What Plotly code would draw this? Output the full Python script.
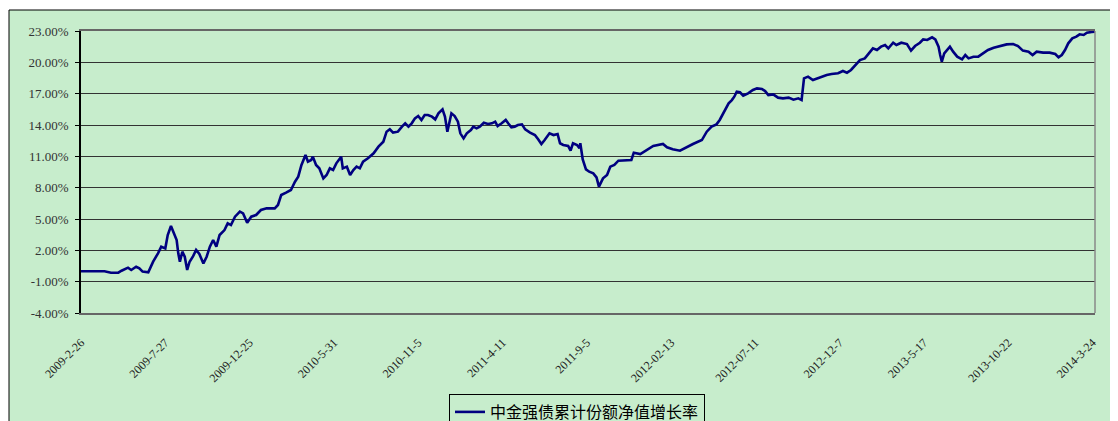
import plotly.graph_objects as go

# trading-day index (0 = 2009-2-26) and cumulative NAV growth (%)
day_index = [0, 29, 37, 46, 50, 58, 62, 68, 72, 76, 83, 85, 89, 95, 99, 104, 107, 111, 116, 118,
             120, 122, 125, 128, 131, 134, 138, 142, 146, 151, 155, 159, 163, 167, 171, 177, 181, 185, 190, 196,
             200, 205, 210, 216, 222, 229, 235, 239, 243, 247, 253, 259, 264, 268, 272, 277, 280, 284, 286, 290,
             294, 299, 303, 307, 311, 315, 321, 323, 328, 332, 336, 340, 344, 348, 354, 361, 367, 373, 377, 381,
             385, 391, 396, 400, 404, 408, 412, 416, 420, 424, 428, 433, 437, 441, 446, 449, 452, 454, 457, 461,
             465, 468, 472, 476, 481, 484, 488, 492, 497, 502, 507, 511, 514, 519, 524, 527, 531, 535, 539, 544,
             548, 554, 560, 564, 568, 572, 578, 583, 588, 591, 595, 601, 604, 607, 612, 615, 616, 619, 623, 627,
             632, 636, 639, 644, 649, 653, 658, 663, 669, 675, 679, 682, 688, 690, 706, 718, 723, 730, 739, 748,
             755, 766, 772, 778, 784, 788, 793, 799, 803, 806, 809, 813, 817, 823, 829, 834, 840, 844, 848, 854,
             860, 866, 873, 879, 885, 889, 892, 897, 903, 908, 914, 920, 926, 934, 940, 945, 950, 955, 961, 967,
             971, 977, 982, 987, 992, 996, 1002, 1006, 1012, 1019, 1024, 1029, 1035, 1039, 1044, 1050, 1054, 1058, 1060, 1062,
             1065, 1068, 1072, 1076, 1081, 1087, 1091, 1095, 1101, 1107, 1113, 1119, 1126, 1134, 1142, 1150, 1156, 1162, 1169, 1174,
             1179, 1187, 1195, 1202, 1206, 1210, 1214, 1218, 1223, 1228, 1232, 1237, 1241, 1247, 1251]
growth_pct = [0.0, 0.0, -0.14, -0.14, 0.05, 0.34, 0.12, 0.43, 0.27, -0.04, -0.11, 0.27, 0.91, 1.71, 2.35, 2.19, 3.47, 4.33, 3.47, 2.99,
              1.71, 0.91, 1.87, 1.39, 0.12, 0.91, 1.39, 2.03, 1.65, 0.75, 1.39, 2.35, 2.99, 2.35, 3.47, 3.94, 4.58, 4.42, 5.22, 5.70,
              5.54, 4.65, 5.22, 5.38, 5.86, 6.02, 6.02, 6.02, 6.34, 7.30, 7.52, 7.78, 8.57, 9.05, 10.17, 11.13, 10.49, 10.65, 10.97, 10.17,
              9.85, 8.89, 9.21, 9.85, 9.69, 10.33, 10.97, 9.85, 10.01, 9.21, 9.69, 10.01, 9.85, 10.49, 10.81, 11.29, 11.93, 12.40, 13.36, 13.59,
              13.27, 13.36, 13.84, 14.16, 13.84, 14.16, 14.64, 14.86, 14.48, 14.96, 14.96, 14.80, 14.54, 15.12, 15.50, 14.80, 13.36, 14.16, 15.12, 14.86,
              14.32, 13.20, 12.72, 13.20, 13.52, 13.84, 13.68, 13.84, 14.22, 14.10, 14.16, 14.32, 13.90, 14.16, 14.48, 14.16, 13.78, 13.84, 14.00, 14.06,
              13.58, 13.27, 13.04, 12.63, 12.18, 12.56, 13.20, 13.04, 13.14, 12.25, 12.09, 11.99, 11.54, 12.25, 12.09, 11.77, 12.25, 10.71, 9.75, 9.53,
              9.37, 8.99, 8.10, 8.89, 9.21, 10.01, 10.17, 10.58, 10.58, 10.58, 10.65, 11.35, 11.29, 11.22, 11.99, 12.18, 11.87, 11.67, 11.54, 11.93,
              12.18, 12.56, 13.36, 13.84, 14.06, 14.48, 15.27, 16.07, 16.39, 16.71, 17.19, 17.13, 16.81, 17.03, 17.35, 17.51, 17.45, 17.25, 16.87, 16.93,
              16.62, 16.55, 16.62, 16.42, 16.55, 16.39, 18.47, 18.63, 18.31, 18.47, 18.63, 18.79, 18.88, 18.95, 19.17, 19.01, 19.27, 19.68, 20.22, 20.38,
              20.77, 21.34, 21.18, 21.50, 21.66, 21.34, 21.88, 21.66, 21.88, 21.75, 21.12, 21.56, 21.88, 22.20, 22.14, 22.39, 22.20, 21.50, 20.70, 20.06,
              20.86, 21.18, 21.50, 21.02, 20.54, 20.29, 20.70, 20.38, 20.54, 20.54, 20.86, 21.18, 21.40, 21.56, 21.72, 21.75, 21.56, 21.12, 21.02, 20.70,
              21.02, 20.93, 20.93, 20.80, 20.48, 20.70, 21.18, 21.82, 22.30, 22.46, 22.68, 22.62, 22.84, 22.90, 22.94]

label_index = [0, 104, 208, 312, 416, 520, 624, 728, 832, 936, 1040, 1144, 1248]
label_text = ["2009-2-26", "2009-7-27", "2009-12-25", "2010-5-31", "2010-11-5", "2011-4-11", "2011-9-5",
              "2012-02-13", "2012-07-11", "2012-12-7", "2013-5-17", "2013-10-22", "2014-3-24"]
tick_index = [0, 71, 142, 213, 284, 355, 426, 497, 568, 639, 710, 781, 852, 923, 994, 1065, 1136, 1207]
y_ticks = [-4, -1, 2, 5, 8, 11, 14, 17, 20, 23]
series_name = "中金强债累计份额净值增长率"

GREEN = "#C7EDCC"
OFF = 8  # page body margin offset
W, H = 1118, 421
L, T = 81 - OFF, 31 - OFF
pw, ph = 1014, 282
R, B = W - L - pw, H - T - ph

def px_x(p):  # page pixel -> paper x
    return (p - OFF - L) / pw

def px_y(p):  # page pixel -> paper y
    return (T + ph - (p - OFF)) / ph

fig = go.Figure()
fig.add_trace(go.Scatter(x=day_index, y=growth_pct, mode="lines", name=series_name,
                         line=dict(color="#000080", width=2.6)))

xr = [0, day_index[-1]]
fig.update_layout(
    width=W, height=H,
    margin=dict(l=L, r=R, t=T, b=B, autoexpand=False),
    paper_bgcolor="white", plot_bgcolor=GREEN,
    showlegend=True,
    legend=dict(orientation="h", x=px_x(449), xanchor="left", y=px_y(394), yanchor="top",
                bgcolor=GREEN, bordercolor="#000", borderwidth=1,
                font=dict(family="Noto Sans CJK SC", size=16, color="#000"),
                itemwidth=30, tracegroupgap=0),
    xaxis=dict(range=xr, tickmode="array", tickvals=label_index, ticktext=label_text,
               tickangle=-45, ticks="", showgrid=False, zeroline=False,
               ticklabelstandoff=16,
               showline=True, linecolor="#666", linewidth=1.5, mirror=True,
               tickfont=dict(family="Liberation Serif", size=12, color="#222")),
    xaxis2=dict(overlaying="x", anchor="free", position=4 / 27, range=xr,
                tickmode="array", tickvals=tick_index, ticks="inside", ticklen=5,
                tickcolor="#000", tickwidth=1, showticklabels=False, showgrid=False,
                zeroline=False, showline=True, linecolor="#000", linewidth=1),
    yaxis=dict(range=[-4, 23], tickmode="array", tickvals=y_ticks,
               ticktext=[f"{v:.2f}%" for v in y_ticks],
               showgrid=True, gridcolor="#333", gridwidth=1, zeroline=False,
               showline=True, linecolor="#000", linewidth=1.5,
               ticks="outside", ticklen=4, tickcolor="#000", ticklabelstandoff=4,
               tickfont=dict(family="Liberation Serif", size=13, color="#333")),
    shapes=[
        dict(type="rect", xref="paper", yref="paper", layer="below",
             x0=px_x(9), x1=px_x(1140), y0=px_y(440), y1=px_y(10),
             fillcolor=GREEN, line=dict(color="#000", width=1)),
        dict(type="line", xref="paper", yref="paper", x0=1, x1=1, y0=0, y1=1,
             line=dict(color="#888", width=1.5)),
    ],
)

fig.write_html("out.html")
